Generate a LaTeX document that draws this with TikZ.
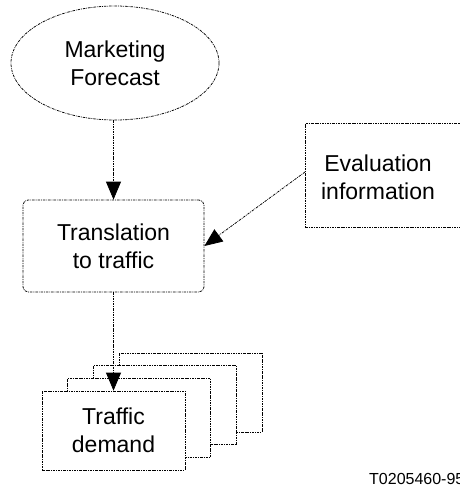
\documentclass[tikz,border=0pt]{standalone}
\usepackage{fontspec}
\setmainfont{Liberation Sans}
\usetikzlibrary{shapes.geometric,arrows.meta}
\tikzset{
  dashdot/.style={draw=black, line width=0.75pt, dash pattern=on 2.5pt off 1pt on 0.8pt off 1pt},
  flow/.style={dashdot, -{Triangle[length=18pt,width=15pt]}},
  stackbox/.style={dashdot, fill=white, rectangle, minimum width=143pt, minimum height=79pt, inner sep=0pt},
}
\begin{document}
\begin{tikzpicture}[x=1pt,y=1pt,font=\fontsize{23}{28}\selectfont]
\useasboundingbox (0,0) rectangle (459,-491);
% forecast and translation
\node[dashdot, ellipse, minimum width=208pt, minimum height=114pt, inner sep=0pt, align=center] (mkt) at (115,-63) {Marketing\\Forecast};
\node[dashdot, rounded corners=5pt, minimum width=181pt, minimum height=92pt, inner sep=0pt, align=center] (trans) at (113.5,-246) {Translation\\to traffic};
\draw[flow] (trans.north |- mkt.south) -- (trans.north);
% evaluation box, cut off at the right
\node[dashdot, minimum width=180pt, minimum height=104pt, inner sep=0pt, anchor=west] (evalbox) at (305,-175) {};
\node[align=center] (evaltext) at (378,-177) {Evaluation\\information};
\draw[flow] ([yshift=3pt]evalbox.west) -- (trans.east);
% stack of demand sheets
\foreach \i in {3,2,1}
  \node[stackbox] (dem\i) at ({113.5+25.7*\i},{-430.5+12.7*\i}) {};
\node[stackbox, align=center] (dem) at (113.5,-430.5) {Traffic\\demand};
\draw[flow] (trans.south) -- (dem.north);
\node[font=\fontsize{16}{19}\selectfont, anchor=west, inner sep=0pt] (code) at (369,-479) {T0205460-95};
\end{tikzpicture}
\end{document}
